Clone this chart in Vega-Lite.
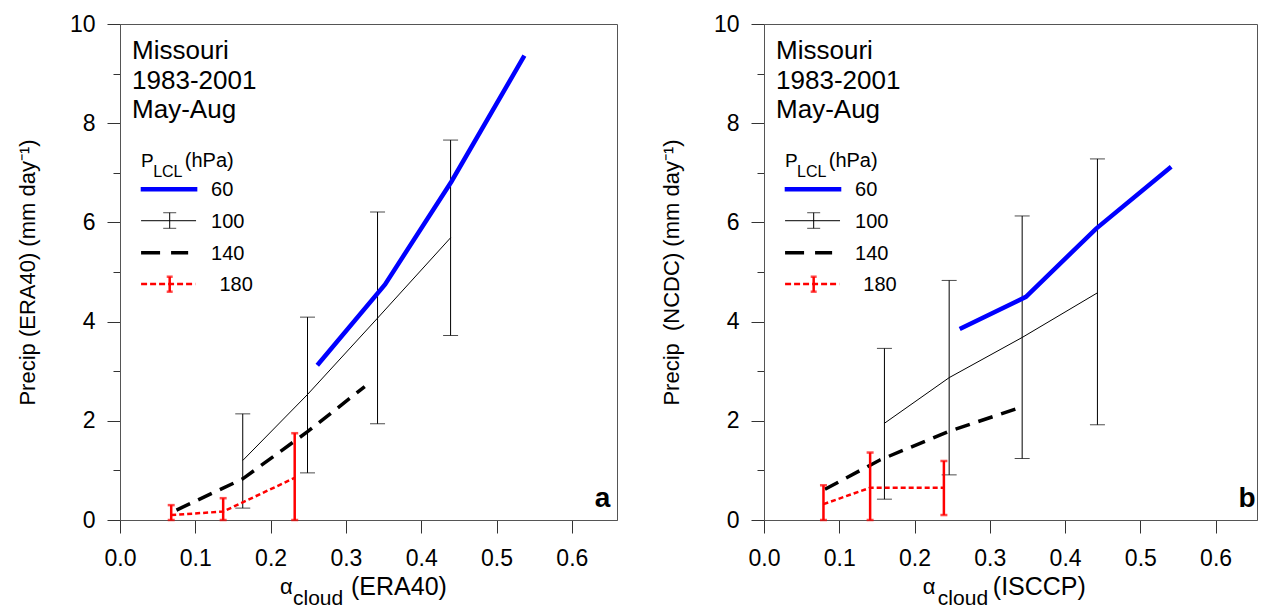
{
  "$schema": "https://vega.github.io/schema/vega-lite/v6.json",
  "padding": {"left": 15, "top": 12, "right": 0, "bottom": 0},
  "background": "white",
  "datasets": {
    "a": [
      {"s": "60", "x": 0.262, "y": 3.12}, {"s": "60", "x": 0.352, "y": 4.75}, {"s": "60", "x": 0.44, "y": 6.82}, {"s": "60", "x": 0.537, "y": 9.36},
      {"s": "100", "x": 0.163, "y": 1.2, "lo": 0.24, "hi": 2.14}, {"s": "100", "x": 0.249, "y": 2.53, "lo": 0.95, "hi": 4.09}, {"s": "100", "x": 0.342, "y": 4.07, "lo": 1.94, "hi": 6.21}, {"s": "100", "x": 0.439, "y": 5.69, "lo": 3.72, "hi": 7.66},
      {"s": "140", "x": 0.075, "y": 0.2}, {"s": "140", "x": 0.163, "y": 0.83}, {"s": "140", "x": 0.249, "y": 1.78}, {"s": "140", "x": 0.325, "y": 2.69},
      {"s": "180", "x": 0.068, "y": 0.1, "lo": 0, "hi": 0.3}, {"s": "180", "x": 0.137, "y": 0.17, "lo": 0, "hi": 0.44}, {"s": "180", "x": 0.232, "y": 0.85, "lo": 0, "hi": 1.75}
    ],
    "b": [
      {"s": "60", "x": 0.26, "y": 3.85}, {"s": "60", "x": 0.348, "y": 4.5}, {"s": "60", "x": 0.441, "y": 5.87}, {"s": "60", "x": 0.541, "y": 7.12},
      {"s": "100", "x": 0.16, "y": 1.95, "lo": 0.42, "hi": 3.46}, {"s": "100", "x": 0.246, "y": 2.87, "lo": 0.91, "hi": 4.83}, {"s": "100", "x": 0.343, "y": 3.68, "lo": 1.24, "hi": 6.13}, {"s": "100", "x": 0.443, "y": 4.58, "lo": 1.92, "hi": 7.28},
      {"s": "140", "x": 0.081, "y": 0.62}, {"s": "140", "x": 0.154, "y": 1.21}, {"s": "140", "x": 0.246, "y": 1.79}, {"s": "140", "x": 0.343, "y": 2.28},
      {"s": "180", "x": 0.079, "y": 0.32, "lo": 0, "hi": 0.7}, {"s": "180", "x": 0.141, "y": 0.65, "lo": 0, "hi": 1.36}, {"s": "180", "x": 0.239, "y": 0.65, "lo": 0.1, "hi": 1.19}
    ],
    "one": [{}]
  },
  "hconcat": [
    {
      "width": 497, "height": 496,
      "data": {"name": "a"},
      "layer": [
        {"transform": [{"filter": "datum.s === '100'"}], "mark": {"type": "rule", "color": "black", "strokeWidth": 1},
         "encoding": {
           "x": {"field": "x", "type": "quantitative", "scale": {"domain": [0, 0.66], "nice": false, "zero": false},
                 "axis": {"title": null, "values": [0, 0.05, 0.1, 0.15, 0.2, 0.25, 0.3, 0.35, 0.4, 0.45, 0.5, 0.55, 0.6, 0.65],
                          "labelExpr": "round(datum.value*20) % 2 === 0 ? format(datum.value, '.1f') : ''",
                          "tickSize": {"condition": {"test": "round(datum.value*20) % 2 === 0", "value": 13}, "value": 6}}},
           "y": {"field": "lo", "type": "quantitative", "scale": {"domain": [0, 10], "nice": false},
                 "axis": {"title": "Precip (ERA40) (mm day⁻¹)", "values": [0, 1, 2, 3, 4, 5, 6, 7, 8, 9, 10],
                          "labelExpr": "datum.value % 2 === 0 ? datum.label : ''",
                          "tickSize": {"condition": {"test": "datum.value % 2 === 0", "value": 13}, "value": 7}}},
           "y2": {"field": "hi"}}},
        {"transform": [{"filter": "datum.s === '100'"}], "mark": {"type": "tick", "orient": "horizontal", "size": 15, "thickness": 1, "color": "black"},
         "encoding": {"x": {"field": "x", "type": "quantitative"}, "y": {"field": "hi", "type": "quantitative"}}},
        {"transform": [{"filter": "datum.s === '100'"}], "mark": {"type": "tick", "orient": "horizontal", "size": 15, "thickness": 1, "color": "black"},
         "encoding": {"x": {"field": "x", "type": "quantitative"}, "y": {"field": "lo", "type": "quantitative"}}},
        {"transform": [{"filter": "datum.s === '100'"}], "mark": {"type": "line", "color": "black", "strokeWidth": 1},
         "encoding": {"x": {"field": "x", "type": "quantitative"}, "y": {"field": "y", "type": "quantitative"}}},
        {"transform": [{"filter": "datum.s === '140'"}], "mark": {"type": "line", "color": "black", "strokeWidth": 3.5, "strokeDash": [15, 9]},
         "encoding": {"x": {"field": "x", "type": "quantitative"}, "y": {"field": "y", "type": "quantitative"}}},
        {"transform": [{"filter": "datum.s === '180'"}], "mark": {"type": "line", "color": "#ff0000", "strokeWidth": 2.5, "strokeDash": [5, 3]},
         "encoding": {"x": {"field": "x", "type": "quantitative"}, "y": {"field": "y", "type": "quantitative"}}},
        {"transform": [{"filter": "datum.s === '180'"}], "mark": {"type": "rule", "color": "#ff0000", "strokeWidth": 2.5},
         "encoding": {"x": {"field": "x", "type": "quantitative"}, "y": {"field": "lo", "type": "quantitative"}, "y2": {"field": "hi"}}},
        {"transform": [{"filter": "datum.s === '180'"}], "mark": {"type": "tick", "orient": "horizontal", "size": 7, "thickness": 2.5, "color": "#ff0000"},
         "encoding": {"x": {"field": "x", "type": "quantitative"}, "y": {"field": "hi", "type": "quantitative"}}},
        {"transform": [{"filter": "datum.s === '180'"}], "mark": {"type": "tick", "orient": "horizontal", "size": 7, "thickness": 2.5, "color": "#ff0000"},
         "encoding": {"x": {"field": "x", "type": "quantitative"}, "y": {"field": "lo", "type": "quantitative"}}},
        {"transform": [{"filter": "datum.s === '60'"}], "mark": {"type": "line", "color": "#0000ff", "strokeWidth": 4.5},
         "encoding": {"x": {"field": "x", "type": "quantitative"}, "y": {"field": "y", "type": "quantitative"}}},

        {"data": {"name": "one"}, "mark": {"type": "text", "text": "Missouri", "fontSize": 26, "align": "left", "baseline": "alphabetic"},
         "encoding": {"x": {"datum": 0.016}, "y": {"datum": 9.29}}},
        {"data": {"name": "one"}, "mark": {"type": "text", "text": "1983-2001", "fontSize": 26, "align": "left", "baseline": "alphabetic"},
         "encoding": {"x": {"datum": 0.016}, "y": {"datum": 8.68}}},
        {"data": {"name": "one"}, "mark": {"type": "text", "text": "May-Aug", "fontSize": 26, "align": "left", "baseline": "alphabetic"},
         "encoding": {"x": {"datum": 0.016}, "y": {"datum": 8.1}}},
        {"data": {"name": "one"}, "mark": {"type": "text", "text": "P", "fontSize": 19, "align": "left", "baseline": "alphabetic"},
         "encoding": {"x": {"datum": 0.028}, "y": {"datum": 7.12}}},
        {"data": {"name": "one"}, "mark": {"type": "text", "text": "LCL", "fontSize": 16, "align": "left", "baseline": "alphabetic"},
         "encoding": {"x": {"datum": 0.044}, "y": {"datum": 6.92}}},
        {"data": {"name": "one"}, "mark": {"type": "text", "text": "(hPa)", "fontSize": 20, "align": "left", "baseline": "alphabetic"},
         "encoding": {"x": {"datum": 0.086}, "y": {"datum": 7.12}}},
        {"data": {"name": "one"}, "mark": {"type": "rule", "color": "#0000ff", "strokeWidth": 4.5},
         "encoding": {"x": {"datum": 0.0275}, "x2": {"datum": 0.1027}, "y": {"datum": 6.667}}},
        {"data": {"name": "one"}, "mark": {"type": "rule", "color": "black", "strokeWidth": 1},
         "encoding": {"x": {"datum": 0.028}, "x2": {"datum": 0.101}, "y": {"datum": 6.034}}},
        {"data": {"name": "one"}, "mark": {"type": "rule", "color": "black", "strokeWidth": 1},
         "encoding": {"x": {"datum": 0.066}, "y": {"datum": 5.881}, "y2": {"datum": 6.195}}},
        {"data": {"name": "one"}, "mark": {"type": "tick", "orient": "horizontal", "size": 13, "thickness": 1, "color": "black"},
         "encoding": {"x": {"datum": 0.066}, "y": {"datum": 6.195}}},
        {"data": {"name": "one"}, "mark": {"type": "tick", "orient": "horizontal", "size": 13, "thickness": 1, "color": "black"},
         "encoding": {"x": {"datum": 0.066}, "y": {"datum": 5.881}}},
        {"data": {"name": "one"}, "mark": {"type": "rule", "color": "black", "strokeWidth": 3.5, "strokeDash": [19, 11]},
         "encoding": {"x": {"datum": 0.028}, "x2": {"datum": 0.0905}, "y": {"datum": 5.389}}},
        {"data": {"name": "one"}, "mark": {"type": "rule", "color": "#ff0000", "strokeWidth": 2.5, "strokeDash": [6, 3]},
         "encoding": {"x": {"datum": 0.028}, "x2": {"datum": 0.1}, "y": {"datum": 4.758}}},
        {"data": {"name": "one"}, "mark": {"type": "rule", "color": "#ff0000", "strokeWidth": 2.5},
         "encoding": {"x": {"datum": 0.066}, "y": {"datum": 4.603}, "y2": {"datum": 4.905}}},
        {"data": {"name": "one"}, "mark": {"type": "tick", "orient": "horizontal", "size": 6, "thickness": 2.5, "color": "#ff0000"},
         "encoding": {"x": {"datum": 0.066}, "y": {"datum": 4.905}}},
        {"data": {"name": "one"}, "mark": {"type": "tick", "orient": "horizontal", "size": 6, "thickness": 2.5, "color": "#ff0000"},
         "encoding": {"x": {"datum": 0.066}, "y": {"datum": 4.603}}},
        {"data": {"name": "one"}, "mark": {"type": "text", "text": "60", "fontSize": 20, "align": "left", "baseline": "middle", "dy": 1},
         "encoding": {"x": {"datum": 0.121}, "y": {"datum": 6.667}}},
        {"data": {"name": "one"}, "mark": {"type": "text", "text": "100", "fontSize": 20, "align": "left", "baseline": "middle", "dy": 1},
         "encoding": {"x": {"datum": 0.121}, "y": {"datum": 6.034}}},
        {"data": {"name": "one"}, "mark": {"type": "text", "text": "140", "fontSize": 20, "align": "left", "baseline": "middle", "dy": 1},
         "encoding": {"x": {"datum": 0.121}, "y": {"datum": 5.389}}},
        {"data": {"name": "one"}, "mark": {"type": "text", "text": "180", "fontSize": 20, "align": "left", "baseline": "middle", "dy": 1},
         "encoding": {"x": {"datum": 0.132}, "y": {"datum": 4.758}}},
        {"data": {"name": "one"}, "mark": {"type": "text", "text": "a", "fontSize": 28, "fontWeight": "bold", "align": "right", "baseline": "alphabetic"},
         "encoding": {"x": {"datum": 0.651}, "y": {"datum": 0.262}}},
        {"data": {"name": "one"}, "mark": {"type": "text", "text": "α", "fontSize": 22, "align": "left", "baseline": "alphabetic"},
         "encoding": {"x": {"datum": 0.2125}, "y": {"datum": -1.5}}},
        {"data": {"name": "one"}, "mark": {"type": "text", "text": "cloud", "fontSize": 21, "align": "left", "baseline": "alphabetic"},
         "encoding": {"x": {"datum": 0.2297}, "y": {"datum": -1.71}}},
        {"data": {"name": "one"}, "mark": {"type": "text", "text": "(ERA40)", "fontSize": 25, "align": "left", "baseline": "alphabetic"},
         "encoding": {"x": {"datum": 0.3068}, "y": {"datum": -1.52}}}
      ]
    },
    {
      "width": 493, "height": 496,
      "data": {"name": "b"},
      "layer": [
        {"transform": [{"filter": "datum.s === '100'"}], "mark": {"type": "rule", "color": "black", "strokeWidth": 1},
         "encoding": {
           "x": {"field": "x", "type": "quantitative", "scale": {"domain": [0, 0.655], "nice": false, "zero": false},
                 "axis": {"title": null, "values": [0, 0.05, 0.1, 0.15, 0.2, 0.25, 0.3, 0.35, 0.4, 0.45, 0.5, 0.55, 0.6, 0.65],
                          "labelExpr": "round(datum.value*20) % 2 === 0 ? format(datum.value, '.1f') : ''",
                          "tickSize": {"condition": {"test": "round(datum.value*20) % 2 === 0", "value": 13}, "value": 6}}},
           "y": {"field": "lo", "type": "quantitative", "scale": {"domain": [0, 10], "nice": false},
                 "axis": {"title": "Precip\u00a0 (NCDC) (mm day⁻¹)", "values": [0, 1, 2, 3, 4, 5, 6, 7, 8, 9, 10],
                          "labelExpr": "datum.value % 2 === 0 ? datum.label : ''",
                          "tickSize": {"condition": {"test": "datum.value % 2 === 0", "value": 13}, "value": 7}}},
           "y2": {"field": "hi"}}},
        {"transform": [{"filter": "datum.s === '100'"}], "mark": {"type": "tick", "orient": "horizontal", "size": 15, "thickness": 1, "color": "black"},
         "encoding": {"x": {"field": "x", "type": "quantitative"}, "y": {"field": "hi", "type": "quantitative"}}},
        {"transform": [{"filter": "datum.s === '100'"}], "mark": {"type": "tick", "orient": "horizontal", "size": 15, "thickness": 1, "color": "black"},
         "encoding": {"x": {"field": "x", "type": "quantitative"}, "y": {"field": "lo", "type": "quantitative"}}},
        {"transform": [{"filter": "datum.s === '100'"}], "mark": {"type": "line", "color": "black", "strokeWidth": 1},
         "encoding": {"x": {"field": "x", "type": "quantitative"}, "y": {"field": "y", "type": "quantitative"}}},
        {"transform": [{"filter": "datum.s === '140'"}], "mark": {"type": "line", "color": "black", "strokeWidth": 3.5, "strokeDash": [15, 9]},
         "encoding": {"x": {"field": "x", "type": "quantitative"}, "y": {"field": "y", "type": "quantitative"}}},
        {"transform": [{"filter": "datum.s === '180'"}], "mark": {"type": "line", "color": "#ff0000", "strokeWidth": 2.5, "strokeDash": [5, 3]},
         "encoding": {"x": {"field": "x", "type": "quantitative"}, "y": {"field": "y", "type": "quantitative"}}},
        {"transform": [{"filter": "datum.s === '180'"}], "mark": {"type": "rule", "color": "#ff0000", "strokeWidth": 2.5},
         "encoding": {"x": {"field": "x", "type": "quantitative"}, "y": {"field": "lo", "type": "quantitative"}, "y2": {"field": "hi"}}},
        {"transform": [{"filter": "datum.s === '180'"}], "mark": {"type": "tick", "orient": "horizontal", "size": 7, "thickness": 2.5, "color": "#ff0000"},
         "encoding": {"x": {"field": "x", "type": "quantitative"}, "y": {"field": "hi", "type": "quantitative"}}},
        {"transform": [{"filter": "datum.s === '180'"}], "mark": {"type": "tick", "orient": "horizontal", "size": 7, "thickness": 2.5, "color": "#ff0000"},
         "encoding": {"x": {"field": "x", "type": "quantitative"}, "y": {"field": "lo", "type": "quantitative"}}},
        {"transform": [{"filter": "datum.s === '60'"}], "mark": {"type": "line", "color": "#0000ff", "strokeWidth": 4.5},
         "encoding": {"x": {"field": "x", "type": "quantitative"}, "y": {"field": "y", "type": "quantitative"}}},

        {"data": {"name": "one"}, "mark": {"type": "text", "text": "Missouri", "fontSize": 26, "align": "left", "baseline": "alphabetic"},
         "encoding": {"x": {"datum": 0.016}, "y": {"datum": 9.29}}},
        {"data": {"name": "one"}, "mark": {"type": "text", "text": "1983-2001", "fontSize": 26, "align": "left", "baseline": "alphabetic"},
         "encoding": {"x": {"datum": 0.016}, "y": {"datum": 8.68}}},
        {"data": {"name": "one"}, "mark": {"type": "text", "text": "May-Aug", "fontSize": 26, "align": "left", "baseline": "alphabetic"},
         "encoding": {"x": {"datum": 0.016}, "y": {"datum": 8.1}}},
        {"data": {"name": "one"}, "mark": {"type": "text", "text": "P", "fontSize": 19, "align": "left", "baseline": "alphabetic"},
         "encoding": {"x": {"datum": 0.028}, "y": {"datum": 7.12}}},
        {"data": {"name": "one"}, "mark": {"type": "text", "text": "LCL", "fontSize": 16, "align": "left", "baseline": "alphabetic"},
         "encoding": {"x": {"datum": 0.044}, "y": {"datum": 6.92}}},
        {"data": {"name": "one"}, "mark": {"type": "text", "text": "(hPa)", "fontSize": 20, "align": "left", "baseline": "alphabetic"},
         "encoding": {"x": {"datum": 0.086}, "y": {"datum": 7.12}}},
        {"data": {"name": "one"}, "mark": {"type": "rule", "color": "#0000ff", "strokeWidth": 4.5},
         "encoding": {"x": {"datum": 0.0275}, "x2": {"datum": 0.1027}, "y": {"datum": 6.667}}},
        {"data": {"name": "one"}, "mark": {"type": "rule", "color": "black", "strokeWidth": 1},
         "encoding": {"x": {"datum": 0.028}, "x2": {"datum": 0.101}, "y": {"datum": 6.034}}},
        {"data": {"name": "one"}, "mark": {"type": "rule", "color": "black", "strokeWidth": 1},
         "encoding": {"x": {"datum": 0.066}, "y": {"datum": 5.881}, "y2": {"datum": 6.195}}},
        {"data": {"name": "one"}, "mark": {"type": "tick", "orient": "horizontal", "size": 13, "thickness": 1, "color": "black"},
         "encoding": {"x": {"datum": 0.066}, "y": {"datum": 6.195}}},
        {"data": {"name": "one"}, "mark": {"type": "tick", "orient": "horizontal", "size": 13, "thickness": 1, "color": "black"},
         "encoding": {"x": {"datum": 0.066}, "y": {"datum": 5.881}}},
        {"data": {"name": "one"}, "mark": {"type": "rule", "color": "black", "strokeWidth": 3.5, "strokeDash": [19, 11]},
         "encoding": {"x": {"datum": 0.028}, "x2": {"datum": 0.0905}, "y": {"datum": 5.389}}},
        {"data": {"name": "one"}, "mark": {"type": "rule", "color": "#ff0000", "strokeWidth": 2.5, "strokeDash": [6, 3]},
         "encoding": {"x": {"datum": 0.028}, "x2": {"datum": 0.1}, "y": {"datum": 4.758}}},
        {"data": {"name": "one"}, "mark": {"type": "rule", "color": "#ff0000", "strokeWidth": 2.5},
         "encoding": {"x": {"datum": 0.066}, "y": {"datum": 4.603}, "y2": {"datum": 4.905}}},
        {"data": {"name": "one"}, "mark": {"type": "tick", "orient": "horizontal", "size": 6, "thickness": 2.5, "color": "#ff0000"},
         "encoding": {"x": {"datum": 0.066}, "y": {"datum": 4.905}}},
        {"data": {"name": "one"}, "mark": {"type": "tick", "orient": "horizontal", "size": 6, "thickness": 2.5, "color": "#ff0000"},
         "encoding": {"x": {"datum": 0.066}, "y": {"datum": 4.603}}},
        {"data": {"name": "one"}, "mark": {"type": "text", "text": "60", "fontSize": 20, "align": "left", "baseline": "middle", "dy": 1},
         "encoding": {"x": {"datum": 0.121}, "y": {"datum": 6.667}}},
        {"data": {"name": "one"}, "mark": {"type": "text", "text": "100", "fontSize": 20, "align": "left", "baseline": "middle", "dy": 1},
         "encoding": {"x": {"datum": 0.121}, "y": {"datum": 6.034}}},
        {"data": {"name": "one"}, "mark": {"type": "text", "text": "140", "fontSize": 20, "align": "left", "baseline": "middle", "dy": 1},
         "encoding": {"x": {"datum": 0.121}, "y": {"datum": 5.389}}},
        {"data": {"name": "one"}, "mark": {"type": "text", "text": "180", "fontSize": 20, "align": "left", "baseline": "middle", "dy": 1},
         "encoding": {"x": {"datum": 0.132}, "y": {"datum": 4.758}}},
        {"data": {"name": "one"}, "mark": {"type": "text", "text": "b", "fontSize": 28, "fontWeight": "bold", "align": "right", "baseline": "alphabetic"},
         "encoding": {"x": {"datum": 0.653}, "y": {"datum": 0.262}}},
        {"data": {"name": "one"}, "mark": {"type": "text", "text": "α", "fontSize": 22, "align": "left", "baseline": "alphabetic"},
         "encoding": {"x": {"datum": 0.211}, "y": {"datum": -1.5}}},
        {"data": {"name": "one"}, "mark": {"type": "text", "text": "cloud", "fontSize": 21, "align": "left", "baseline": "alphabetic"},
         "encoding": {"x": {"datum": 0.231}, "y": {"datum": -1.71}}},
        {"data": {"name": "one"}, "mark": {"type": "text", "text": "(ISCCP)", "fontSize": 25, "align": "left", "baseline": "alphabetic"},
         "encoding": {"x": {"datum": 0.304}, "y": {"datum": -1.52}}}
      ]
    }
  ],
  "spacing": 147,
  "bounds": "flush",
  "config": {
    "font": "Liberation Sans",
    "view": {"stroke": "#555555", "strokeWidth": 1},
    "axis": {
      "grid": false, "domainColor": "#555555", "tickColor": "#333333", "tickWidth": 1,
      "labelFont": "Liberation Sans", "labelFontSize": 23, "labelColor": "black", "labelFlush": false, "labelOverlap": false,
      "labelPadding": 12, "titleFont": "Liberation Sans", "titleFontSize": 22, "titleFontWeight": "normal", "titleColor": "black", "titlePadding": 30
    },
    "axisX": {"labelPadding": 14},
    "text": {"font": "Liberation Sans", "color": "black"}
  }
}
